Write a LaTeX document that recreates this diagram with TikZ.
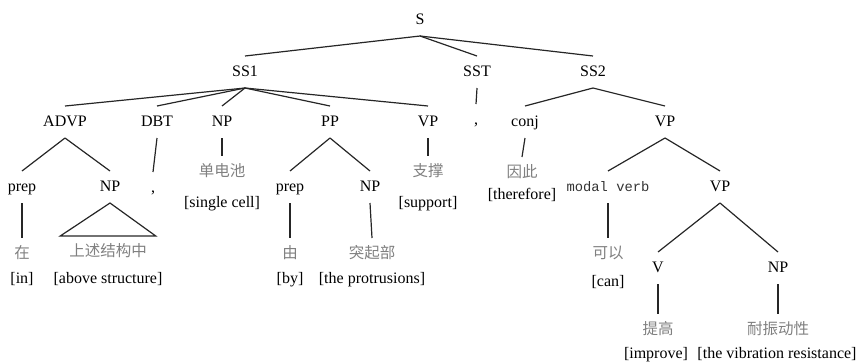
\documentclass[tikz,border=0pt]{standalone}
\usepackage{fontspec}
\setmainfont{Liberation Serif}
\setmonofont{Liberation Mono}
\newfontfamily\zhfont{Noto Sans CJK SC}
\usepackage{xcolor}
\usepackage{tikz}
\usetikzlibrary{positioning, calc}

\begin{document}
\begin{tikzpicture}[
    x=1pt, y=-1pt,
    every node/.style={font=\rmfamily\fontsize{16}{18}\selectfont, anchor=base,
                       text height=11pt, text depth=3pt, inner sep=2pt, outer sep=7pt},
    cat/.style={},
    zh/.style={font=\zhfont\fontsize{15.5}{18}\selectfont, text=black!50},
    gloss/.style={font=\rmfamily\fontsize{16}{18}\selectfont},
    mono/.style={font=\ttfamily\fontsize{13.8}{18}\selectfont, text=black!80},
    branch/.style={line width=1.2pt, black!85}
]
    \useasboundingbox (0,0) rectangle (858,362);

    \node[cat] (s) at (420,24) {S};
    \node[cat] (ss1) at (245,76) {SS1};
    \node[cat] (sst) at (477,76) {SST};
    \node[cat] (ss2) at (593,76) {SS2};

    \node[cat] (advp) at (65,126) {ADVP};
    \node[cat] (dbt) at (157,126) {DBT};
    \node[cat] (npa) at (222,126) {NP};
    \node[cat] (ppa) at (330,126) {PP};
    \node[cat] (vpa) at (428,126) {VP};
    \node[cat] (comma1) at (476,124) {,};
    \node[cat] (conj) at (525,126) {conj};
    \node[cat] (vpb) at (665,126) {VP};

    \node[cat] (prepa) at (22,191) {prep};
    \node[cat] (npb) at (110,191) {NP};
    \node[cat] (comma2) at (153,192) {,};
    \node[zh] (dan) at (222,176) {单电池};
    \node[gloss] (gdan) at (222,207) {[single cell]};
    \node[cat] (prepb) at (290,191) {prep};
    \node[cat] (npc) at (370,191) {NP};
    \node[zh] (zhi) at (428,176) {支撑};
    \node[gloss] (gzhi) at (428,207) {[support]};
    \node[zh] (yin) at (522,177) {因此};
    \node[gloss] (gyin) at (522,199) {[therefore]};
    \node[mono] (modal) at (608,191) {modal verb};
    \node[cat] (vpc) at (720,191) {VP};

    \node[zh] (zai) at (22,258) {在};
    \node[gloss] (gzai) at (22,283) {[in]};
    \node[zh] (shang) at (108,256) {上述结构中};
    \node[gloss] (gshang) at (108,283) {[above structure]};
    \node[zh] (you) at (290,258) {由};
    \node[gloss] (gyou) at (290,283) {[by]};
    \node[zh] (tu) at (372,258) {突起部};
    \node[gloss] (gtu) at (372,283) {[the protrusions]};
    \node[zh] (ke) at (608,258) {可以};
    \node[gloss] (gke) at (608,286) {[can]};
    \node[cat] (v) at (658,272) {V};
    \node[cat] (npd) at (778,272) {NP};
    \node[zh] (ti) at (658,334) {提高};
    \node[gloss] (gti) at (656,358) {[improve]};
    \node[zh] (nai) at (778,334) {耐振动性};
    \node[gloss] (gnai) at (777,358) {[the vibration resistance]};

    \draw[branch] (s.south) -- (ss1.north);
    \draw[branch] (s.south) -- (sst.north);
    \draw[branch] (s.south) -- (ss2.north);
    \draw[branch] (ss1.south) -- (advp.north);
    \draw[branch] (ss1.south) -- (dbt.north);
    \draw[branch] (ss1.south) -- (npa.north);
    \draw[branch] (ss1.south) -- (ppa.north);
    \draw[branch] (ss1.south) -- (vpa.north);
    \draw[branch] (sst.south) -- (comma1.north);
    \draw[branch] (ss2.south) -- (conj.north);
    \draw[branch] (ss2.south) -- (vpb.north);
    \draw[branch] (advp.south) -- (prepa.north);
    \draw[branch] (advp.south) -- (npb.north);
    \draw[branch] (dbt.south) -- (comma2.north);
    \draw[branch] (npa.south) -- (dan.north);
    \draw[branch] (ppa.south) -- (prepb.north);
    \draw[branch] (ppa.south) -- (npc.north);
    \draw[branch] (vpa.south) -- (zhi.north);
    \draw[branch] (conj.south) -- (yin.north);
    \draw[branch] (vpb.south) -- (modal.north);
    \draw[branch] (vpb.south) -- (vpc.north);
    \draw[branch] (prepa.south) -- (zai.north);
    \draw[branch] (npb.south) -- (shang.north west) -- (shang.north east) -- cycle;
    \draw[branch] (prepb.south) -- (you.north);
    \draw[branch] (npc.south) -- (tu.north);
    \draw[branch] (modal.south) -- (ke.north);
    \draw[branch] (vpc.south) -- (v.north);
    \draw[branch] (vpc.south) -- (npd.north);
    \draw[branch] (v.south) -- (ti.north);
    \draw[branch] (npd.south) -- (nai.north);
\end{tikzpicture}
\end{document}
